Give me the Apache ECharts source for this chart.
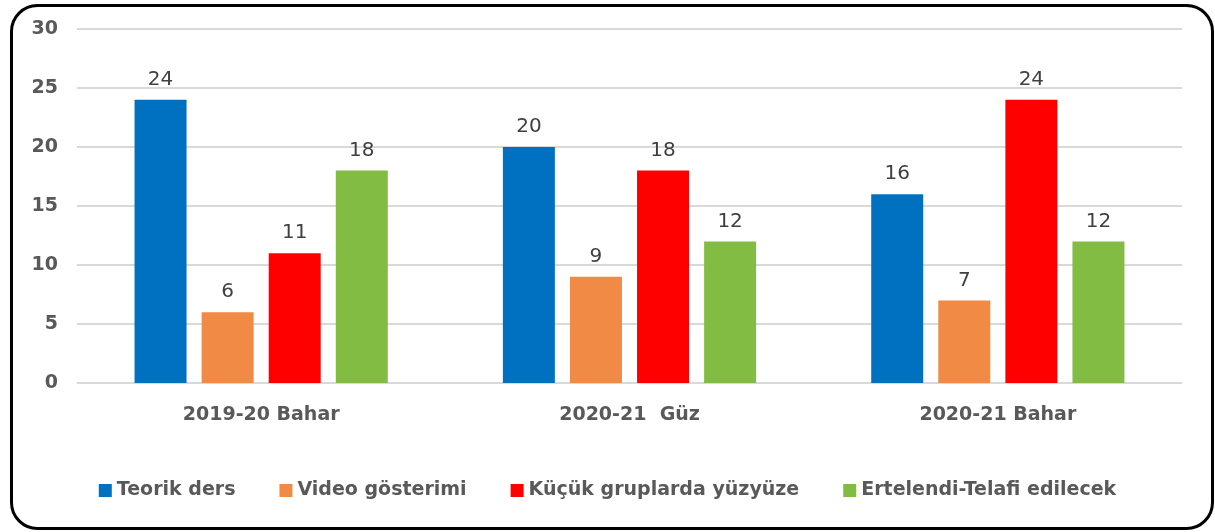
<!DOCTYPE html>
<html><head><meta charset="utf-8">
<script src="https://cdn.jsdelivr.net/npm/echarts@6/dist/echarts.min.js"></script>
<style>html,body{margin:0;padding:0;background:#fff}#c{width:1215px;height:532px}</style>
</head><body><div id="c"></div>
<script>
const categories = ['2019-20 Bahar', '2020-21  Güz', '2020-21 Bahar'];
const seriesNames = ['Teorik ders', 'Video gösterimi', 'Küçük gruplarda yüzyüze', 'Ertelendi-Telafi edilecek'];
const teorik = [24, 20, 16];
const video = [6, 9, 7];
const kucuk = [11, 18, 24];
const ertelendi = [18, 12, 12];
const colors = ['#0070C0', '#F08A45', '#FF0000', '#82BC42'];
const values = [teorik, video, kucuk, ertelendi];

const font = '"DejaVu Sans", sans-serif';
const chart = echarts.init(document.getElementById('c'));
chart.setOption({
  animation: false,
  graphic: [{
    type: 'rect', left: 9, top: 3,
    shape: { width: 1201, height: 523, r: 26 },
    style: { fill: 'none', stroke: '#000', lineWidth: 3 }, z: 100
  }],
  legend: {
    bottom: 27, left: 'center', itemWidth: 13, itemHeight: 13, itemGap: 44,
    icon: 'rect',
    textStyle: { fontFamily: font, fontWeight: 'bold', fontSize: 19, color: '#595959' },
    data: seriesNames
  },
  grid: { left: 77, right: 33, top: 29, bottom: 149 },
  xAxis: {
    type: 'category', data: categories,
    axisLine: { show: false }, axisTick: { show: false },
    axisLabel: { fontFamily: font, fontWeight: 'bold', fontSize: 19, color: '#595959', margin: 23 }
  },
  yAxis: {
    type: 'value', min: 0, max: 30, interval: 5,
    axisLine: { show: false }, axisTick: { show: false },
    splitLine: { lineStyle: { color: '#D9D9D9', width: 2 } },
    axisLabel: { fontFamily: font, fontWeight: 'bold', fontSize: 19, color: '#595959', margin: 19 }
  },
  series: seriesNames.map((n, i) => ({
    name: n, type: 'bar', data: values[i],
    barWidth: 52, barGap: '29%', barCategoryGap: '31%',
    itemStyle: { color: colors[i] },
    label: { show: true, position: 'top', distance: 10, fontFamily: font, fontSize: 20, color: '#404040' }
  }))
});
</script></body></html>
